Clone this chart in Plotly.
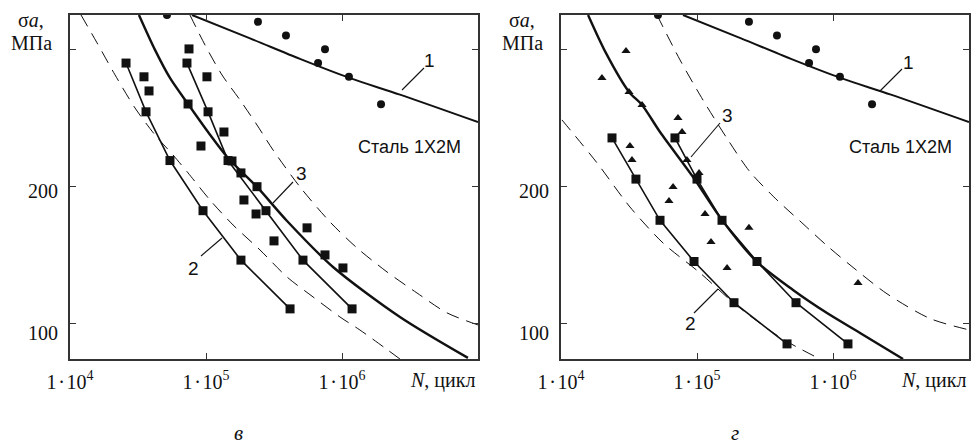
import numpy as np
import plotly.graph_objects as go

# page body keeps its default 8px margin, so the figure is drawn 8px in from the window corner
PAGE_MARGIN = 8
WIN_W, WIN_H = 979, 445
W, H = WIN_W - PAGE_MARGIN, WIN_H - PAGE_MARGIN

# ---------------- data (lgN = log10 of cycles, s = stress amplitude, MPa) -------------
# curve 1 and its points (same in both panels)
c1_lgN = [4.897, 5.324, 5.691, 6.059, 6.426, 7.0]
c1_s = [325, 308, 293, 279, 267, 247]
circ_lgN = [4.713, 5.382, 5.588, 5.875, 5.824, 6.051, 6.287]
circ_s = [325, 320, 310, 300, 290, 280, 260]

# panel "в"
v_c3_lgN = [4.507, 4.625, 4.735, 4.868, 5.015, 5.162, 5.375, 5.596, 5.934, 6.426, 6.926]
v_c3_s = [325, 299.6, 279.2, 260.2, 239.8, 220.9, 199.8, 175.0, 141.5, 105.1, 75.3]
v_lo_lgN = [4.081, 4.199, 4.331, 4.478, 4.625, 4.757, 4.868, 5.029, 5.199, 5.397, 5.596, 5.787, 5.985, 6.132, 6.316, 6.426]
v_lo_s = [325, 304.7, 281.4, 257.3, 237.7, 223.1, 210, 190.3, 172.1, 153.9, 134.2, 119.7, 105.1, 95.6, 82.5, 74.5]
v_hi_lgN = [4.882, 4.993, 5.118, 5.25, 5.375, 5.493, 5.691, 5.912, 6.110, 6.331, 6.551, 6.772, 7.0]
v_hi_s = [325, 303.1, 281.3, 263.1, 244.9, 226.7, 199.8, 174.3, 155.4, 137.9, 122.6, 108.1, 99.3]
v_A_lgN = [4.412, 4.559, 4.735, 4.978, 5.257, 5.618]
v_B_lgN = [4.860, 5.015, 5.162, 5.441, 5.713, 6.074]
v_AB_s = [290, 254.5, 219, 182.5, 146.5, 111]
v_sq_lgN = [4.544, 4.581, 4.875, 5.007, 4.868, 5.132, 4.963, 5.191, 5.257, 5.375, 5.279, 5.368, 5.743, 5.5, 5.875, 6.007]
v_sq_s = [280, 269.7, 300.3, 280, 260.2, 239.8, 229.6, 218.7, 210, 200, 190.3, 180.1, 170, 160.5, 150.3, 140.8]

# panel "г"
g_c3_lgN = [4.199, 4.331, 4.5, 4.596, 4.728, 4.971, 5.184, 5.441, 5.706, 5.956, 6.199, 6.515]
g_c3_s = [325, 297.2, 269, 259.5, 239.8, 207, 175.7, 145.2, 124.8, 108, 93.5, 74.5]
g_lo_lgN = [4.007, 4.265, 4.507, 4.75, 5.022, 5.287, 5.618, 5.904]
g_lo_s = [248.6, 217.3, 185.2, 159, 137.2, 113.9, 89.8, 74.5]
g_hi_lgN = [4.706, 4.875, 5.044, 5.228, 5.39, 5.588, 5.757, 5.956, 6.125, 6.397, 6.713, 7.0]
g_hi_s = [325, 292.3, 263.1, 234, 210.7, 190.3, 175, 157, 143, 122, 104, 95.7]
g_A_lgN = [4.375, 4.551, 4.728, 4.978, 5.272, 5.662]
g_B_lgN = [4.838, 5.0, 5.184, 5.441, 5.728, 6.110]
g_AB_s = [235.5, 205.5, 175.5, 145.5, 115.5, 85.5]
g_tri_lgN = [4.301, 4.478, 4.5, 4.596, 4.860, 4.890, 4.507, 4.522, 4.926, 5.015, 4.824, 4.794, 5.059, 5.382, 5.103, 5.221, 6.184]
g_tri_s = [279.2, 298.8, 269, 259.5, 250, 239.8, 229.6, 219.4, 219.4, 210, 199.8, 189.6, 180.1, 170, 159.7, 140.8, 129.9]

x_ticks = [1e4, 1e5, 1e6]
x_ticktext = ["1\u200a·\u200a10<sup>4</sup>", "1\u200a·\u200a10<sup>5</sup>", "1\u200a·\u200a10<sup>6</sup>"]
y_ticks = [100, 200, 300]
y_ticktext = ["100", "200", ""]

# ---------------- figure --------------------------------------------------------------
INK = "#111111"
SERIF = "Liberation Serif"
SANS = "Liberation Sans"


def N(lg):
    return 10 ** np.asarray(lg)


fig = go.Figure()


def add_line(lg, s, xa, ya, width=1.4, dash=None, spline=True):
    fig.add_trace(go.Scatter(
        x=N(lg), y=s, mode="lines", xaxis=xa, yaxis=ya,
        line=dict(color=INK, width=width, dash=dash,
                  shape="spline" if spline else "linear", smoothing=0.8),
        hoverinfo="skip", showlegend=False))


def add_pts(lg, s, xa, ya, symbol, size=8, connect=False):
    fig.add_trace(go.Scatter(
        x=N(lg), y=s, mode="lines+markers" if connect else "markers",
        xaxis=xa, yaxis=ya,
        line=dict(color=INK, width=1.6),
        marker=dict(symbol=symbol, size=size, color=INK, line=dict(width=0)),
        hoverinfo="skip", showlegend=False))


DASH = "13px,8px"
for xa, ya in (("x", "y"), ("x2", "y2")):
    add_line(c1_lgN, c1_s, xa, ya, width=2.0)
    add_pts(circ_lgN, circ_s, xa, ya, "circle", size=8)

# panel в
add_line(v_lo_lgN, v_lo_s, "x", "y", width=1.0, dash=DASH)
add_line(v_hi_lgN, v_hi_s, "x", "y", width=1.0, dash=DASH)
add_line(v_c3_lgN, v_c3_s, "x", "y", width=2.4)
add_pts(v_A_lgN, v_AB_s, "x", "y", "square", size=9, connect=True)
add_pts(v_B_lgN, v_AB_s, "x", "y", "square", size=9, connect=True)
add_pts(v_sq_lgN, v_sq_s, "x", "y", "square", size=9)

# panel г
add_line(g_lo_lgN, g_lo_s, "x2", "y2", width=1.0, dash=DASH)
add_line(g_hi_lgN, g_hi_s, "x2", "y2", width=1.0, dash=DASH)
add_line(g_c3_lgN, g_c3_s, "x2", "y2", width=2.4)
add_pts(g_A_lgN, g_AB_s, "x2", "y2", "square", size=9, connect=True)
add_pts(g_B_lgN, g_AB_s, "x2", "y2", "square", size=9, connect=True)
add_pts(g_tri_lgN, g_tri_s, "x2", "y2", "triangle-up", size=8)


def px(x):
    """window pixel x -> paper coordinate"""
    return (x - PAGE_MARGIN) / W


def py(y):
    """window pixel y -> paper coordinate"""
    return 1 - (y - PAGE_MARGIN) / H


axis_common = dict(showline=True, mirror="ticks", linecolor="#333333", linewidth=1.5,
                   ticks="inside", ticklen=6, tickwidth=1.2, tickcolor="#333333",
                   showgrid=False, zeroline=False, automargin=False,
                   tickfont=dict(family=SERIF, size=20, color=INK))
xcommon = dict(axis_common, type="log", range=[4, 7], tickvals=x_ticks, ticktext=x_ticktext,
               ticklabelstandoff=4)
ycommon = dict(axis_common, range=[74.5, 325], tickvals=y_ticks, ticktext=y_ticktext,
               showticklabels=False)

ydom = [py(359), py(15)]
fig.update_layout(
    width=W, height=H, margin=dict(l=0, r=0, t=0, b=0, autoexpand=False),
    paper_bgcolor="white", plot_bgcolor="white",
    xaxis=dict(xcommon, domain=[px(70), px(478)], anchor="y"),
    yaxis=dict(ycommon, domain=ydom, anchor="x"),
    xaxis2=dict(xcommon, domain=[px(561), px(969)], anchor="y2"),
    yaxis2=dict(ycommon, domain=ydom, anchor="x2"),
)

ann = []


def text(x, y, t, family=SERIF, size=20, xanchor="center", yanchor="middle"):
    ann.append(dict(x=px(x), y=py(y), xref="paper", yref="paper", text=t, showarrow=False,
                    xanchor=xanchor, yanchor=yanchor, borderpad=0,
                    font=dict(family=family, size=size, color=INK)))


shapes = []


def leader(x0, y0, x1, y1):
    shapes.append(dict(type="line", xref="paper", yref="paper",
                       x0=px(x0), y0=py(y0), x1=px(x1), y1=py(y1),
                       line=dict(color=INK, width=1.1)))


for off in (0, 491):
    text(31 + off, 8, "σ<i>a</i>,", size=20, yanchor="top")
    text(31 + off, 31, "МПа", size=20, yanchor="top")
    text(442 + off, 380, "<i>N</i>, цикл", size=20)
    text(409 + off, 147, "Сталь 1Х2М", family=SANS, size=18)
    # y tick labels (sit a little below their ticks, as in the original)
    for val, lab, yy in zip(y_ticks, y_ticktext, (333, 191, 0)):
        if lab:
            text(59 + off, yy, lab, size=20, xanchor="right")

text(238, 433, "<i>в</i>", size=21)
text(735, 433, "<i>г</i>", size=21)

# curve numbers and leaders
text(429, 60, "1", family=SANS, size=19)
leader(424, 68, 402, 90)
text(301, 173, "3", family=SANS, size=19)
leader(293, 182, 273, 203)
text(193, 268, "2", family=SANS, size=19)
leader(201, 256, 222, 238)

text(908, 62, "1", family=SANS, size=19)
leader(902, 69, 880, 91)
text(727, 115, "3", family=SANS, size=19)
leader(720, 123, 691, 157)
text(690, 323, "2", family=SANS, size=19)
leader(694, 313, 718, 289)

fig.update_layout(annotations=ann, shapes=shapes)
fig.write_html("out.html")
